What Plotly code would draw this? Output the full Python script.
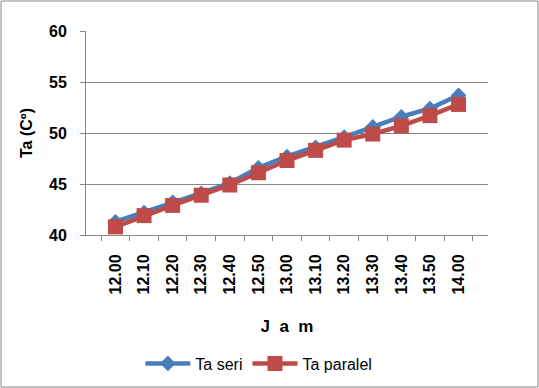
import plotly.graph_objects as go

categories = ["12.00", "12.10", "12.20", "12.30", "12.40", "12.50", "13.00",
              "13.10", "13.20", "13.30", "13.40", "13.50", "14.00"]
ta_seri = [41.3, 42.2, 43.2, 44.1, 45.1, 46.6, 47.7, 48.6, 49.6, 50.6, 51.6, 52.4, 53.7]
ta_paralel = [40.8, 41.9, 42.9, 43.9, 44.9, 46.1, 47.3, 48.3, 49.3, 49.9, 50.7, 51.7, 52.8]
y_ticks = [40, 45, 50, 55, 60]

W, H = 539, 388
ml, mr, mt, mb = 86, 51, 31, 153
pw, ph = W - ml - mr, H - mt - mb

font_family = "Liberation Sans, Arial, sans-serif"

fig = go.Figure()
fig.add_trace(go.Scatter(
    x=categories, y=ta_seri, name="Ta seri", mode="lines+markers",
    line=dict(color="#4a7ebb", width=4.5),
    marker=dict(symbol="diamond", size=12, color="#4a7ebb"),
))
fig.add_trace(go.Scatter(
    x=categories, y=ta_paralel, name="Ta paralel", mode="lines+markers",
    line=dict(color="#be4b48", width=4.5),
    marker=dict(symbol="square", size=15, color="#be4b48"),
))

fig.update_layout(
    width=W, height=H,
    margin=dict(l=ml, r=mr, t=mt, b=mb, autoexpand=False),
    paper_bgcolor="white", plot_bgcolor="white",
    font=dict(family=font_family, color="black"),
    showlegend=True,
    legend=dict(orientation="h", x=0.43, y=-0.63, xanchor="center", yanchor="middle",
                font=dict(size=16, family=font_family), itemwidth=45),
    xaxis=dict(
        type="category", tickangle=-90, tickson="boundaries", ticks="outside",
        ticklen=5, tickcolor="#868686", showline=True, linecolor="#868686", linewidth=1,
        showgrid=False, ticklabelstandoff=12,
        tickfont=dict(size=16, family=font_family, weight="bold"),
        title=dict(text="J\u00a0\u00a0a\u00a0\u00a0m",
                   font=dict(size=17, family=font_family, weight="bold"),
                   standoff=26),
    ),
    yaxis=dict(
        range=[40, 60], tickvals=y_ticks, ticks="outside", ticklen=5,
        tickcolor="#868686", showline=True, linecolor="#868686", linewidth=1,
        showgrid=True, gridcolor="#868686", gridwidth=1, zeroline=False,
        ticklabelstandoff=10,
        tickfont=dict(size=16, family=font_family, weight="bold"),
        title=dict(text="Ta (Cº)", font=dict(size=16, family=font_family, weight="bold"),
                   standoff=12),
    ),
    shapes=[dict(type="rect", xref="paper", yref="paper",
                 x0=(1 - ml) / pw, x1=(W - 1 - ml) / pw,
                 y0=-(mb - 1) / ph, y1=1 + (mt - 1) / ph,
                 line=dict(color="#868686", width=1))],
)

fig.write_html("out.html", config={"displayModeBar": False},
               post_script="document.body.style.margin='0';")
